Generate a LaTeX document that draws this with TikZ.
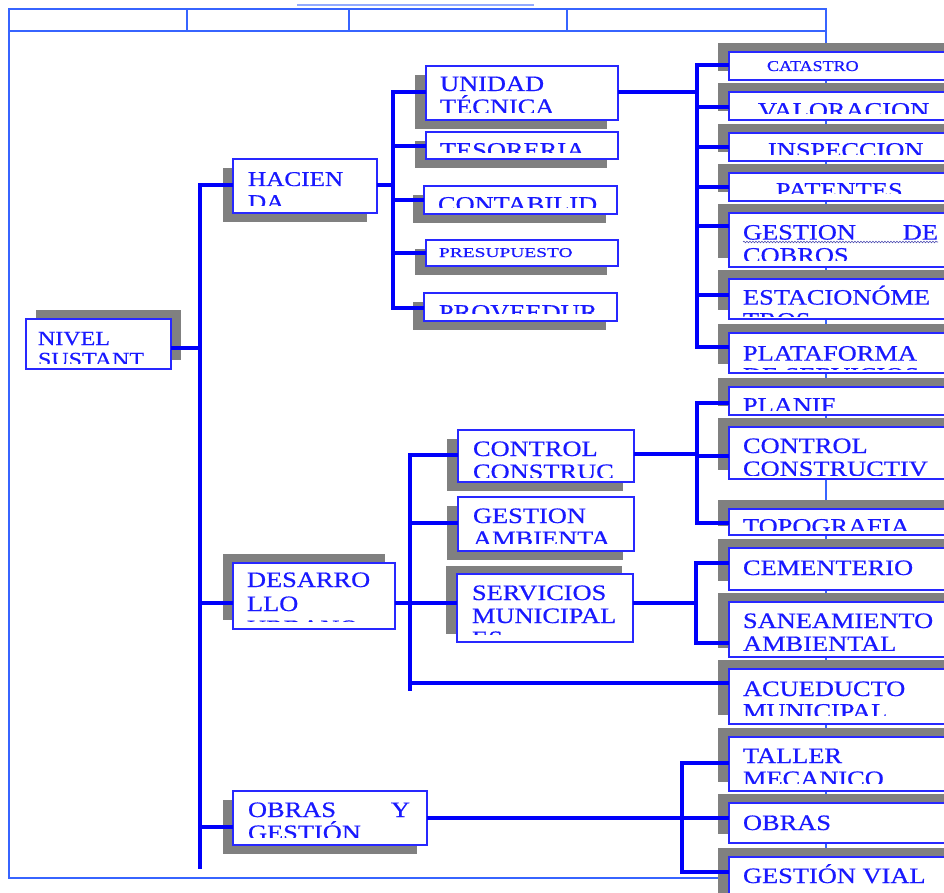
\documentclass[tikz,border=0pt]{standalone}
\usepackage{fontspec}
\setmainfont{Liberation Serif}[FakeStretch=1.2,FakeBold=0.6]
\usepackage{graphicx}
\usetikzlibrary{decorations.pathmorphing}
\definecolor{tblue}{RGB}{25,25,255}
\definecolor{cblue}{RGB}{0,0,250}
\definecolor{bblue}{RGB}{40,40,255}
\definecolor{fblue}{RGB}{55,100,255}
\definecolor{shad}{RGB}{128,128,128}
\newcommand\obox[7]{%
  \fill[shad] ({#2+#6},{#3+#7}) rectangle ({#4+#6},{#5+#7});
  \node[boxfill, minimum width={(#4-#2)*1pt}, minimum height={(#5-#3)*1pt}] (#1) at ({(#2+#4)/2},{(#3+#5)/2}) {};
}
\newcommand\otext[7]{%
  \begin{scope}
    \clip ([xshift=1pt]#1.west |- 0,#6) rectangle ([xshift=-1pt,yshift=-1pt]#1.north east);
    \foreach \tline [count=\i] in {#7} {%
      \node[txt, font=\fontsize{#5}{#5}\selectfont, anchor=base west] (#1-t\i) at (#2,{#3+(\i-1)*#4}) {\tline};}
  \end{scope}
  \draw[boxline] (#1.south west) rectangle (#1.north east);
}
\newcommand\hc[3]{\path (0,#3) coordinate (Yc); \draw[conn] (#1 |- Yc) -- (#2 |- Yc);}
\begin{document}
\begin{tikzpicture}[x=1pt,y=-1pt,
  conn/.style={draw=cblue,line width=3.6pt},
  frame/.style={draw=fblue,line width=1.2pt},
  boxfill/.style={rectangle,fill=white,draw=none,inner sep=0pt,outer sep=0pt},
  boxline/.style={draw=bblue,line width=1.2pt},
  txt/.style={text=tblue,inner sep=0pt,outer sep=0pt}]
\useasboundingbox (0,0) rectangle (944,893);
\clip (0,0) rectangle (944,893);
\fill[white] (0,0) rectangle (944,893);
% frame
\draw[frame] (9,9) rectangle (826,878);
\draw[frame] (9,31) -- (826,31);
\foreach \x in {187,349,567} \draw[frame] (\x,9) -- (\x,31);
\draw[draw=fblue!55, line width=1.4pt] (297,5) -- (534,5);
% boxes
\obox{nivel}{26}{319}{171}{369}{10}{-9}
\obox{hac}{233}{159}{377}{213}{-10}{9}
\obox{ut}{426}{66}{618}{120}{-11}{9}
\obox{tes}{426}{132}{618}{159}{-11}{9}
\obox{con}{424}{186}{617}{214}{-11}{9}
\obox{pre}{426}{240}{618}{266}{-11}{9}
\obox{pro}{424}{293}{617}{321}{-11}{9}
\obox{cat}{729}{52}{960}{80}{-11}{-9}
\obox{val}{729}{92}{960}{120}{-11}{-9}
\obox{ins}{729}{133}{960}{161}{-11}{-9}
\obox{pat}{729}{173}{960}{201}{-11}{-9}
\obox{gdc}{729}{213}{960}{267}{-11}{-9}
\obox{est}{729}{279}{960}{319}{-11}{-9}
\obox{pla}{729}{333}{960}{373}{-11}{-9}
\obox{plan}{729}{387}{960}{415}{-11}{-9}
\obox{ctv}{729}{427}{960}{479}{-11}{-9}
\obox{top}{729}{509}{960}{535}{-11}{-9}
\obox{cem}{729}{548}{960}{590}{-11}{-9}
\obox{san}{729}{602}{960}{657}{-11}{-9}
\obox{acu}{729}{669}{960}{724}{-11}{-9}
\obox{tal}{729}{737}{960}{791}{-11}{-9}
\obox{obr}{729}{803}{960}{843}{-11}{-9}
\obox{gvi}{729}{857}{960}{905}{-11}{-9}
\obox{cc}{458}{430}{634}{482}{-11}{9}
\obox{ga}{458}{497}{634}{551}{-11}{9}
\obox{ser}{457}{574}{633}{642}{-11}{-8}
\obox{des}{233}{563}{395}{629}{-10}{-9}
\obox{obg}{233}{791}{427}{845}{-10}{9}
% texts
\otext{nivel}{38}{345}{21}{20}{363}{NIVEL,SUSTANT}
\otext{hac}{248}{186}{23}{21}{206}{HACIEN,DA}
\otext{ut}{440}{91}{23}{22}{113}{UNIDAD,TÉCNICA}
\otext{tes}{440}{157.6}{23}{22}{153}{TESORERIA}
\otext{con}{438}{211.6}{23}{22}{208}{CONTABILID}
\otext{pre}{439}{257}{23}{13.5}{264}{{\scalebox{1.2}[1]{PRESUPUESTO}}}
\otext{pro}{439}{319.6}{23}{22}{313}{PROVEEDUR}
\otext{cat}{767}{71}{23}{15}{78}{CATASTRO}
\otext{val}{758}{117.6}{23}{22}{114}{VALORACION}
\otext{ins}{768}{157.6}{23}{22}{155}{INSPECCION}
\otext{pat}{776}{197.6}{23}{22}{194}{PATENTES}
\otext{gdc}{743}{239.6}{23}{22}{260}{{\makebox[195pt][s]{GESTION DE}},COBROS}
\otext{est}{743}{304.6}{23}{22}{316}{ESTACIONÓME,TROS}
\otext{pla}{743}{360.6}{22}{22}{369}{PLATAFORMA,DE SERVICIOS}
\otext{plan}{743}{412.6}{23}{22}{410}{PLANIF}
\otext{ctv}{743}{453}{23}{22}{475}{CONTROL,CONSTRUCTIV}
\otext{top}{743}{533.6}{23}{22}{530}{TOPOGRAFIA}
\otext{cem}{743}{575}{23}{22}{588}{CEMENTERIO}
\otext{san}{743}{628}{23}{22}{650}{SANEAMIENTO,AMBIENTAL}
\otext{acu}{743}{696}{22.6}{22}{715}{ACUEDUCTO,MUNICIPAL}
\otext{tal}{743}{763}{23}{22}{783}{TALLER,MECANICO}
\otext{obr}{743}{830}{23}{22}{841}{OBRAS}
\otext{gvi}{743}{883}{23}{22}{903}{GESTIÓN VIAL}
\otext{cc}{473}{456}{23}{22}{477}{CONTROL,CONSTRUC}
\otext{ga}{473}{523}{23}{22}{543}{GESTION,AMBIENTA}
\otext{ser}{472}{600}{23}{22}{634}{SERVICIOS,MUNICIPAL,ES}
\otext{des}{247}{587}{24}{22}{621}{DESARRO,LLO,URBANO}
\otext{obg}{248}{817}{23}{22}{837}{{\makebox[162pt][s]{OBRAS Y}},GESTIÓN}
% spell-check squiggle
\draw[gray!60!blue, line width=0.6pt, decorate, decoration={snake,amplitude=0.8pt,segment length=3pt}] (743,242) -- (938,242);
% bars
\coordinate (b1t) at (200,183.2); \coordinate (b1b) at (200,869);
\coordinate (b2t) at (393,90.2);  \coordinate (b2b) at (393,309.8);
\coordinate (b3t) at (697,63.2);  \coordinate (b3b) at (697,348.8);
\coordinate (b4t) at (697,401.2); \coordinate (b4b) at (697,524.8);
\coordinate (b5t) at (696,561.2); \coordinate (b5b) at (696,644.8);
\coordinate (b6t) at (410,453.2); \coordinate (b6b) at (410,691);
\coordinate (b7t) at (682,761.2); \coordinate (b7b) at (682,873.8);
\foreach \b in {1,...,7} \draw[conn] (b\b t) -- (b\b b);
% connectors
\hc{nivel.east}{b1t}{348}
\hc{b1t}{hac.west}{185}
\hc{b1t}{des.west}{603}
\hc{b1t}{obg.west}{827}
\hc{hac.east}{b2t}{185}
\hc{b2t}{ut.west}{92}
\hc{b2t}{tes.west}{146}
\hc{b2t}{con.west}{200}
\hc{b2t}{pre.west}{253}
\hc{b2t}{pro.west}{308}
\hc{ut.east}{b3t}{92}
\hc{b3t}{cat.west}{65}
\hc{b3t}{val.west}{107}
\hc{b3t}{ins.west}{147}
\hc{b3t}{pat.west}{187}
\hc{b3t}{gdc.west}{226}
\hc{b3t}{est.west}{295}
\hc{b3t}{pla.west}{347}
\hc{cc.east}{b4t}{454}
\hc{b4t}{plan.west}{403}
\hc{b4t}{ctv.west}{456}
\hc{b4t}{top.west}{523}
\hc{ser.east}{b5t}{603}
\hc{b5t}{cem.west}{563}
\hc{b5t}{san.west}{643}
\hc{des.east}{b6t}{603}
\hc{b6t}{cc.west}{455}
\hc{b6t}{ga.west}{523}
\hc{b6t}{ser.west}{603}
\hc{b6t}{acu.west}{683}
\hc{obg.east}{obr.west}{818}
\hc{b7t}{tal.west}{763}
\hc{b7t}{gvi.west}{872}
\end{tikzpicture}
\end{document}
